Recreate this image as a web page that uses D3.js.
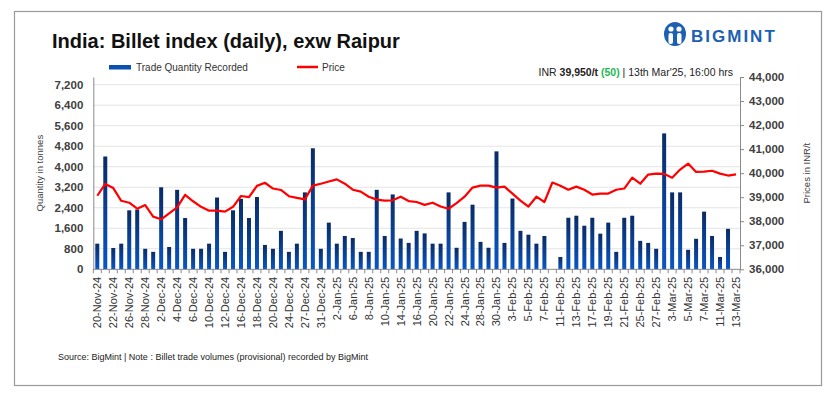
<!DOCTYPE html>
<html>
<head>
<meta charset="utf-8">
<script src="https://cdn.jsdelivr.net/npm/d3@7"></script>
<style>
  body { margin: 0; background: #fff; }
  svg { display: block; font-family: "Liberation Sans", Arial, sans-serif; }
</style>
</head>
<body>
<svg id="chart"></svg>
<script>
const width = 832;
const height = 395;

// trading days, 20-Nov-24 .. 13-Mar-25
const dates = [
  "20-Nov-24", "21-Nov-24", "22-Nov-24", "25-Nov-24", "26-Nov-24", "27-Nov-24", "28-Nov-24", "29-Nov-24",
  "2-Dec-24", "3-Dec-24", "4-Dec-24", "5-Dec-24", "6-Dec-24", "9-Dec-24", "10-Dec-24", "11-Dec-24",
  "12-Dec-24", "13-Dec-24", "16-Dec-24", "17-Dec-24", "18-Dec-24", "19-Dec-24", "20-Dec-24", "23-Dec-24",
  "24-Dec-24", "26-Dec-24", "27-Dec-24", "30-Dec-24", "31-Dec-24",
  "1-Jan-25", "2-Jan-25", "3-Jan-25", "6-Jan-25", "7-Jan-25", "8-Jan-25", "9-Jan-25", "10-Jan-25",
  "13-Jan-25", "14-Jan-25", "15-Jan-25", "16-Jan-25", "17-Jan-25", "20-Jan-25", "21-Jan-25", "22-Jan-25",
  "23-Jan-25", "24-Jan-25", "27-Jan-25", "28-Jan-25", "29-Jan-25", "30-Jan-25", "31-Jan-25",
  "3-Feb-25", "4-Feb-25", "5-Feb-25", "6-Feb-25", "7-Feb-25", "10-Feb-25", "11-Feb-25", "12-Feb-25",
  "13-Feb-25", "14-Feb-25", "17-Feb-25", "18-Feb-25", "19-Feb-25", "20-Feb-25", "21-Feb-25", "24-Feb-25",
  "25-Feb-25", "26-Feb-25", "27-Feb-25", "28-Feb-25",
  "3-Mar-25", "4-Mar-25", "5-Mar-25", "6-Mar-25", "7-Mar-25", "10-Mar-25", "11-Mar-25", "12-Mar-25", "13-Mar-25"
];

// tonnes
const quantity = [
  1000, 4400, 830, 1000, 2300, 2330, 800, 680,
  3200, 870, 3100, 2000, 800, 800, 1000, 2800,
  680, 2300, 2750, 2000, 2820, 950, 800, 1500,
  680, 1000, 3000, 4720, 800,
  1820, 1000, 1300, 1220, 680, 680, 3100, 1300,
  2920, 1200, 1030, 1500, 1400, 1000, 1000, 3000,
  840, 1850, 2520, 1070, 840, 4600, 1030,
  2760, 1500, 1350, 1000, 1300, null, 480, 2010,
  2090, 1700, 2010, 1390, 1820, 680, 2010, 2090,
  1110, 1030, 800, 5300,
  3000, 3000, 760, 1190, 2250, 1300, 480, 1580, null
];

// INR/t
const price = [
  39060, 39550, 39380, 38850, 38770, 38520, 38670, 38190,
  38080, 38330, 38580, 39100, 38830, 38600, 38440, 38440,
  38400, 38600, 39050, 39000, 39470, 39600, 39360, 39300,
  39040, 38970, 38910, 39480, 39560,
  39650, 39740, 39560, 39310, 39230, 39020, 38900, 38860,
  38870, 39020, 38840, 38800, 38680, 38770, 38610, 38520,
  38750, 39020, 39400, 39480, 39480, 39400, 39440,
  39150, 38860, 38610, 39020, 38800, 39610, 39480, 39310,
  39440, 39310, 39110, 39150, 39150, 39310, 39360, 39810,
  39560, 39940, 39980, 39970,
  39810, 40150, 40400, 40050, 40060, 40100, 39980, 39900, 39950
];

const qtyTicks = [0, 800, 1600, 2400, 3200, 4000, 4800, 5600, 6400, 7200];
const priceTicks = [36000, 37000, 38000, 39000, 40000, 41000, 42000, 43000, 44000];

const plot = { left: 93.3, right: 740, top: 77, bottom: 269.3 };

const svg = d3.select("#chart")
  .attr("width", width)
  .attr("height", height);

svg.append("rect")
  .attr("width", width).attr("height", height)
  .attr("fill", "#fff");

// outer frame
svg.append("rect")
  .attr("x", 14.5).attr("y", 11.5)
  .attr("width", 807).attr("height", 374)
  .attr("fill", "none")
  .attr("stroke", "#9a9a9a")
  .attr("stroke-width", 1.2);

const defs = svg.append("defs");
const grad = defs.append("linearGradient")
  .attr("id", "barGrad")
  .attr("x1", 0).attr("y1", 0).attr("x2", 0).attr("y2", 1);
grad.append("stop").attr("offset", "0%").attr("stop-color", "#0a2b66");
grad.append("stop").attr("offset", "100%").attr("stop-color", "#0856c6");

const x = d3.scaleBand()
  .domain(dates)
  .range([plot.left, plot.right])
  .paddingInner(0.5)
  .paddingOuter(0.25);

const yQty = d3.scaleLinear()
  .domain([0, 7500])
  .range([plot.bottom, plot.top]);

const yPrice = d3.scaleLinear()
  .domain([36000, 44000])
  .range([plot.bottom, plot.top]);

// gridlines
svg.append("g")
  .selectAll("line")
  .data(qtyTicks.filter(d => d > 0))
  .enter().append("line")
  .attr("x1", plot.left).attr("x2", plot.right)
  .attr("y1", d => yQty(d)).attr("y2", d => yQty(d))
  .attr("stroke", "#e4e4e4")
  .attr("stroke-width", 1);

// bars
svg.append("g")
  .selectAll("rect")
  .data(dates.map((d, i) => ({ date: d, value: quantity[i] })).filter(d => d.value != null))
  .enter().append("rect")
  .attr("x", d => x(d.date))
  .attr("width", x.bandwidth())
  .attr("y", d => yQty(d.value))
  .attr("height", d => yQty(0) - yQty(d.value))
  .attr("fill", "url(#barGrad)");

// price line
const line = d3.line()
  .x((d, i) => x(dates[i]) + x.bandwidth() / 2)
  .y(d => yPrice(d));

svg.append("path")
  .datum(price)
  .attr("d", line)
  .attr("fill", "none")
  .attr("stroke", "#ff0000")
  .attr("stroke-width", 2.2)
  .attr("stroke-linejoin", "round");

// axes
const axisColor = "#8a8a8a";

const xAxis = svg.append("g")
  .attr("transform", `translate(0,${plot.bottom})`)
  .call(d3.axisBottom(x)
    .tickValues(dates.filter((d, i) => i % 2 === 0))
    .tickSize(0)
    .tickPadding(0));
xAxis.select(".domain").remove();
xAxis.selectAll("text")
  .attr("transform", "rotate(-90)")
  .attr("text-anchor", "end")
  .attr("x", -7.5)
  .attr("y", 0)
  .attr("dy", "0.36em")
  .attr("font-size", 11)
  .attr("font-family", "Liberation Sans, Arial, sans-serif")
  .attr("fill", "#333");

// category boundary ticks
svg.append("g")
  .selectAll("line")
  .data(d3.range(dates.length + 1))
  .enter().append("line")
  .attr("x1", i => plot.left + i * x.step())
  .attr("x2", i => plot.left + i * x.step())
  .attr("y1", plot.bottom)
  .attr("y2", plot.bottom + 4)
  .attr("stroke", axisColor);

svg.append("line")
  .attr("x1", plot.left).attr("x2", plot.right)
  .attr("y1", plot.bottom).attr("y2", plot.bottom)
  .attr("stroke", axisColor);

const leftAxis = svg.append("g")
  .attr("transform", `translate(${plot.left},0)`)
  .call(d3.axisLeft(yQty)
    .tickValues(qtyTicks)
    .tickFormat(d3.format(","))
    .tickSizeInner(0)
    .tickSizeOuter(0)
    .tickPadding(10));
leftAxis.select(".domain").attr("stroke", axisColor);
leftAxis.selectAll("text")
  .attr("font-size", 11.5)
  .attr("font-weight", "bold")
  .attr("font-family", "Liberation Sans, Arial, sans-serif")
  .attr("fill", "#404040");

const rightAxis = svg.append("g")
  .attr("transform", `translate(${plot.right},0)`)
  .call(d3.axisRight(yPrice)
    .tickValues(priceTicks)
    .tickFormat(d3.format(","))
    .tickSizeInner(4)
    .tickSizeOuter(0)
    .tickPadding(5));
rightAxis.select(".domain").attr("stroke", axisColor);
rightAxis.selectAll("line").attr("stroke", axisColor);
rightAxis.selectAll("text")
  .attr("font-size", 11.5)
  .attr("font-weight", "bold")
  .attr("font-family", "Liberation Sans, Arial, sans-serif")
  .attr("fill", "#404040");

// axis titles
svg.append("text")
  .attr("transform", `translate(43,${(plot.top + plot.bottom) / 2}) rotate(-90)`)
  .attr("text-anchor", "middle")
  .attr("font-size", 9.5)
  .attr("fill", "#404040")
  .text("Quantity in tonnes");

svg.append("text")
  .attr("transform", `translate(810,${(plot.top + plot.bottom) / 2}) rotate(-90)`)
  .attr("text-anchor", "middle")
  .attr("font-size", 9.5)
  .attr("fill", "#404040")
  .text("Prices in INR/t");

// title
svg.append("text")
  .attr("x", 52).attr("y", 48)
  .attr("font-size", 20)
  .attr("font-weight", "bold")
  .attr("fill", "#111")
  .text("India: Billet index (daily), exw Raipur");

// legend
svg.append("rect")
  .attr("x", 109).attr("y", 65)
  .attr("width", 22).attr("height", 4.5)
  .attr("fill", "#0b4fb0");
svg.append("text")
  .attr("x", 136).attr("y", 70.5)
  .attr("font-size", 10)
  .attr("fill", "#333")
  .text("Trade Quantity Recorded");
svg.append("line")
  .attr("x1", 297).attr("x2", 318)
  .attr("y1", 67).attr("y2", 67)
  .attr("stroke", "#ff0000")
  .attr("stroke-width", 2.5);
svg.append("text")
  .attr("x", 322).attr("y", 70.5)
  .attr("font-size", 10)
  .attr("fill", "#333")
  .text("Price");

// latest price note
const note = svg.append("text")
  .attr("x", 733).attr("y", 76)
  .attr("text-anchor", "end")
  .attr("font-size", 10.5)
  .attr("fill", "#222");
note.append("tspan").text("INR ");
note.append("tspan").attr("font-weight", "bold").text("39,950/t ");
note.append("tspan").attr("font-weight", "bold").attr("fill", "#1db954").text("(50)");
note.append("tspan").text(" | 13th Mar'25, 16:00 hrs");

// logo
const logo = svg.append("g").attr("transform", "translate(675,34)");
logo.append("ellipse").attr("rx", 11).attr("ry", 12).attr("fill", "#1d5fb3");
logo.append("circle").attr("cx", -4).attr("cy", -5).attr("r", 2.6).attr("fill", "#fff");
logo.append("circle").attr("cx", 4).attr("cy", -5).attr("r", 2.6).attr("fill", "#fff");
logo.append("rect").attr("x", -6.5).attr("y", -1).attr("width", 4.5).attr("height", 11).attr("rx", 2).attr("fill", "#fff");
logo.append("rect").attr("x", 2).attr("y", -1).attr("width", 4.5).attr("height", 11).attr("rx", 2).attr("fill", "#fff");
logo.append("rect").attr("x", -1.3).attr("y", -3).attr("width", 2.6).attr("height", 15).attr("fill", "#1d5fb3");
svg.append("text")
  .attr("x", 691).attr("y", 42)
  .attr("font-size", 17)
  .attr("font-weight", "bold")
  .attr("letter-spacing", 2)
  .attr("fill", "#1d5fb3")
  .text("BIGMINT");

// footer
svg.append("text")
  .attr("x", 58).attr("y", 360)
  .attr("font-size", 9)
  .attr("fill", "#222")
  .text("Source: BigMint | Note : Billet trade volumes (provisional) recorded by BigMint");
</script>
</body>
</html>
